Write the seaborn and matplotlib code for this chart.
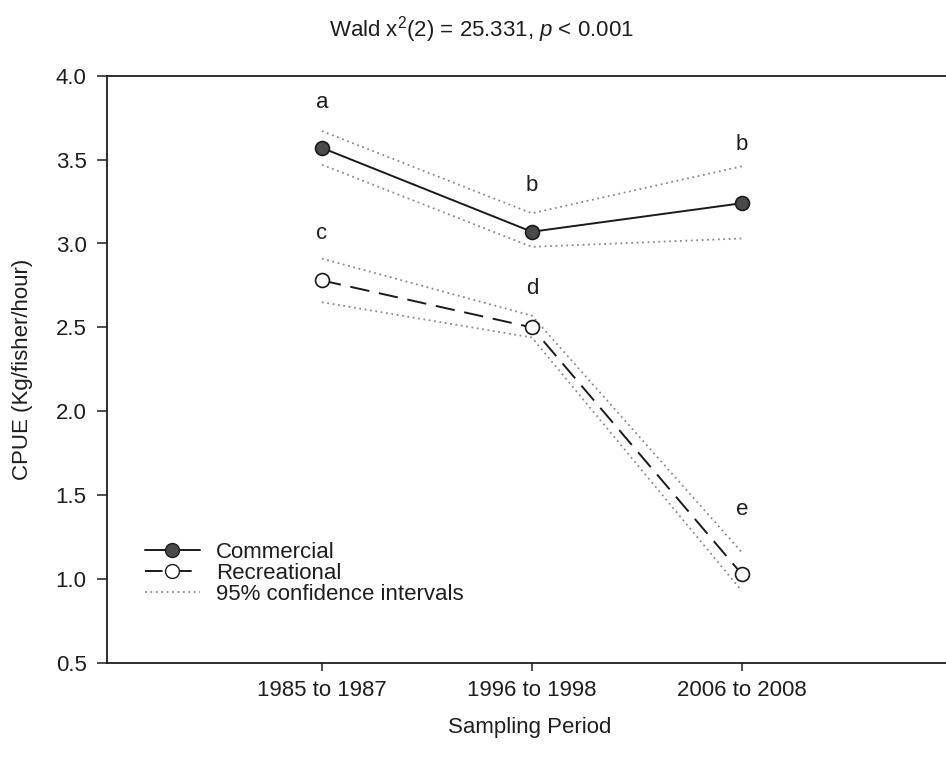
import matplotlib
matplotlib.use("Agg")
import matplotlib.pyplot as plt
import seaborn as sns
import pandas as pd
from matplotlib.lines import Line2D

# ---- data ----
periods = ["1985 to 1987", "1996 to 1998", "2006 to 2008"]
commercial = [3.57, 3.07, 3.24]
commercial_lo = [3.47, 2.98, 3.03]
commercial_hi = [3.67, 3.18, 3.46]
recreational = [2.78, 2.50, 1.03]
recreational_lo = [2.65, 2.44, 0.93]
recreational_hi = [2.91, 2.57, 1.16]
letters_com = ["a", "b", "b"]
letters_com_y = [3.84, 3.345, 3.59]
letters_rec = ["c", "d", "e"]
letters_rec_y = [3.06, 2.73, 1.415]
title_text = r"Wald x$^{2}$(2) = 25.331, $\mathit{p}$ < 0.001"

sns.set_style("ticks")
plt.rcParams["font.family"] = ["Liberation Sans", "DejaVu Sans"]
plt.rcParams["mathtext.fontset"] = "custom"
plt.rcParams["mathtext.rm"] = "Liberation Sans"
plt.rcParams["mathtext.it"] = "Liberation Sans:italic"
plt.rcParams["mathtext.default"] = "regular"

txt = "#1e1e1e"
fs = 16

pos = list(range(len(periods)))
df_c = pd.DataFrame({"x": pos, "y": commercial, "lo": commercial_lo, "hi": commercial_hi})
df_r = pd.DataFrame({"x": pos, "y": recreational, "lo": recreational_lo, "hi": recreational_hi})

fig = plt.figure(figsize=(9.46, 7.58), dpi=100)
ax = fig.add_axes([106.7 / 946, 95 / 758, 845 / 946, 587.3 / 758])

ci_kw = dict(color="#8a8a8a", linewidth=1.3, linestyle=(0, (1, 2.0)), ax=ax, legend=False)
for d in (df_c, df_r):
    sns.lineplot(data=d, x="x", y="lo", **ci_kw)
    sns.lineplot(data=d, x="x", y="hi", **ci_kw)

sns.lineplot(data=df_c, x="x", y="y", ax=ax, color="#1a1a1a", linewidth=1.4,
             marker="o", markersize=10, markerfacecolor="#4a4a4a",
             markeredgecolor="#1a1a1a", markeredgewidth=1.2, legend=False)
sns.lineplot(data=df_r, x="x", y="y", ax=ax, color="#1a1a1a", linewidth=1.4,
             linestyle=(0, (10, 5)),
             marker="o", markersize=10, markerfacecolor="white",
             markeredgecolor="#1a1a1a", markeredgewidth=1.2, legend=False)

for i, (l, yv) in enumerate(zip(letters_com, letters_com_y)):
    ax.text(pos[i], yv, l, ha="center", va="center", fontsize=fs, color=txt)
for i, (l, yv) in enumerate(zip(letters_rec, letters_rec_y)):
    ax.text(pos[i], yv, l, ha="center", va="center", fontsize=fs, color=txt)

ax.set_xlim(-1.025, 3.0)
ax.set_ylim(0.5, 4.0)
ax.set_xticks(pos)
ax.set_xticklabels(periods)
ax.set_yticks([0.5, 1.0, 1.5, 2.0, 2.5, 3.0, 3.5, 4.0])
ax.set_yticklabels([f"{v:.1f}" for v in ax.get_yticks()])
ax.tick_params(axis="both", labelsize=fs, colors="#1e1e1e", direction="out", width=1.1)
ax.tick_params(axis="y", length=7, pad=7.5)
ax.tick_params(axis="x", length=6, pad=6)
for t in ax.get_xticklabels() + ax.get_yticklabels():
    t.set_color(txt)

for s in ["left", "bottom", "top"]:
    ax.spines[s].set_linewidth(1.3)
    ax.spines[s].set_color("#1e1e1e")
ax.spines["right"].set_visible(False)

ax.set_xlabel("Sampling Period", fontsize=fs, color=txt, labelpad=12)
ax.set_ylabel("CPUE (Kg/fisher/hour)", fontsize=fs, color=txt, labelpad=16)

fig.text(481 / 946, 1 - 30 / 758, title_text, ha="center", va="center", fontsize=fs, color=txt)

handles = [
    Line2D([], [], color="#1a1a1a", linewidth=1.4, marker="o", markersize=10,
           markerfacecolor="#4a4a4a", markeredgecolor="#1a1a1a"),
    Line2D([], [], color="#1a1a1a", linewidth=1.4, linestyle=(0, (9, 6)), marker="o",
           markersize=10, markerfacecolor="white", markeredgecolor="#1a1a1a"),
    Line2D([], [], color="#8a8a8a", linewidth=1.3, linestyle=(0, (1, 2.0))),
]
leg = ax.legend(handles, ["Commercial", "Recreational", "95% confidence intervals"],
                loc="upper left", bbox_to_anchor=(38 / 845, (663 - 542) / 587.3),
                frameon=False, fontsize=fs, handlelength=2.5, handletextpad=0.7,
                labelspacing=0.0, borderpad=0, borderaxespad=0)
for t in leg.get_texts():
    t.set_color(txt)

fig.savefig("out.png", dpi=100)
